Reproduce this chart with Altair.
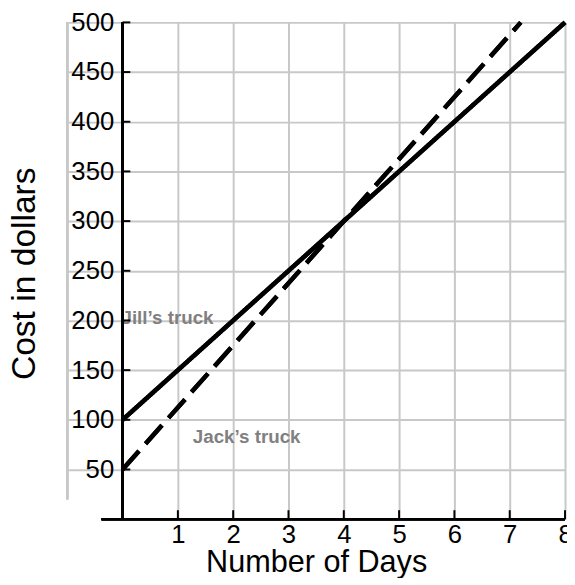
import altair as alt
import pandas as pd

# ---- data ----
day_ticks = [0, 1, 2, 3, 4, 5, 6, 7, 8]
day_labels = [1, 2, 3, 4, 5, 6, 7, 8]
cost_ticks = [50, 100, 150, 200, 250, 300, 350, 400, 450, 500]

jill_days = [0, 4, 8]
jill_cost = [100, 300, 500]
jack_days = [0, 4, 7.2]
jack_cost = [50, 300, 500]

note_text = ["Jill\u2019s truck", "Jack\u2019s truck"]
note_day = [-0.02, 1.27]
note_cost = [196, 77]

FONT = "Liberation Sans"
GRID = "#c8c8c8"

xs = alt.Scale(domain=[-1, 8], nice=False, zero=False)
ys = alt.Scale(domain=[0, 500], nice=False, zero=False)

lines_df = pd.DataFrame({
    "day": jill_days + jack_days,
    "cost": jill_cost + jack_cost,
    "truck": ["Jill"] * len(jill_days) + ["Jack"] * len(jack_days),
})
notes_df = pd.DataFrame({"day": note_day, "cost": note_cost, "text": note_text})
xt_df = pd.DataFrame({"day": day_ticks})
yt_df = pd.DataFrame({"cost": cost_ticks})

x_axis = alt.Axis(
    values=day_labels, format="d", grid=True, gridColor=GRID, gridWidth=2, domain=False,
    ticks=False, tickSize=0, labelFont=FONT, labelFontSize=26, labelColor="black",
    labelPadding=3, labelFlush=False, labelOverlap=False,
    title="Number of Days", titleFont=FONT, titleFontSize=31, titleFontWeight="normal",
    titleColor="black", titleBaseline="alphabetic", titleY=53,
)
y_axis = alt.Axis(
    values=cost_ticks, format="d", grid=True, gridColor=GRID, gridWidth=2, domain=False,
    ticks=False, tickSize=0, labelFont=FONT, labelFontSize=26, labelColor="black",
    labelPadding=-47, labelFlush=False, labelOverlap=False,
    title="Cost in dollars", titleFont=FONT, titleFontSize=34, titleFontWeight="normal",
    titleColor="black", titleAngle=270, titleBaseline="alphabetic", titleAlign="center",
    titleX=-33, titleY=254,
)

lines = alt.Chart(lines_df).mark_line(color="black", strokeWidth=4.5, strokeCap="butt").encode(
    x=alt.X("day:Q", scale=xs, axis=x_axis),
    y=alt.Y("cost:Q", scale=ys, axis=y_axis),
    strokeDash=alt.StrokeDash("truck:N", scale=alt.Scale(domain=["Jill", "Jack"], range=[[1, 0], [25, 10]]), legend=None),
    detail="truck:N",
)

left_grid = alt.Chart(xt_df).mark_rule(color=GRID, strokeWidth=2).encode(
    x=alt.datum(-1), y=alt.datum(20), y2=alt.datum(500)
)

notes = alt.Chart(notes_df).mark_text(
    align="left", baseline="alphabetic", font=FONT, fontSize=19, fontWeight="bold", color="#808080"
).encode(x="day:Q", y="cost:Q", text="text:N")

x_line = alt.Chart(xt_df).mark_rule(color="black", strokeWidth=2).encode(
    x=alt.datum(-0.38), x2=alt.datum(8), y=alt.datum(0)
)
y_line = alt.Chart(xt_df).mark_rule(color="black", strokeWidth=2).encode(
    x=alt.datum(0), y=alt.datum(0), y2=alt.datum(500)
)
x_ticks = alt.Chart(xt_df).mark_rule(color="black", strokeWidth=2).encode(
    x="day:Q", y=alt.datum(0), y2=alt.datum(9)
)
y_ticks = alt.Chart(yt_df).mark_rule(color="black", strokeWidth=2).encode(
    y="cost:Q", x=alt.datum(0), x2=alt.datum(0.14)
)

chart = alt.layer(
    lines, left_grid, notes, x_line, y_line, x_ticks, y_ticks, lines
).properties(
    width=504, height=503,
    autosize=alt.AutoSizeParams(type="none"),
    padding={"left": 60, "top": 11, "right": 2, "bottom": 56},
    background="white",
).configure_view(stroke=None)

chart.save("out.html", embed_options={"renderer": "svg", "actions": False})
